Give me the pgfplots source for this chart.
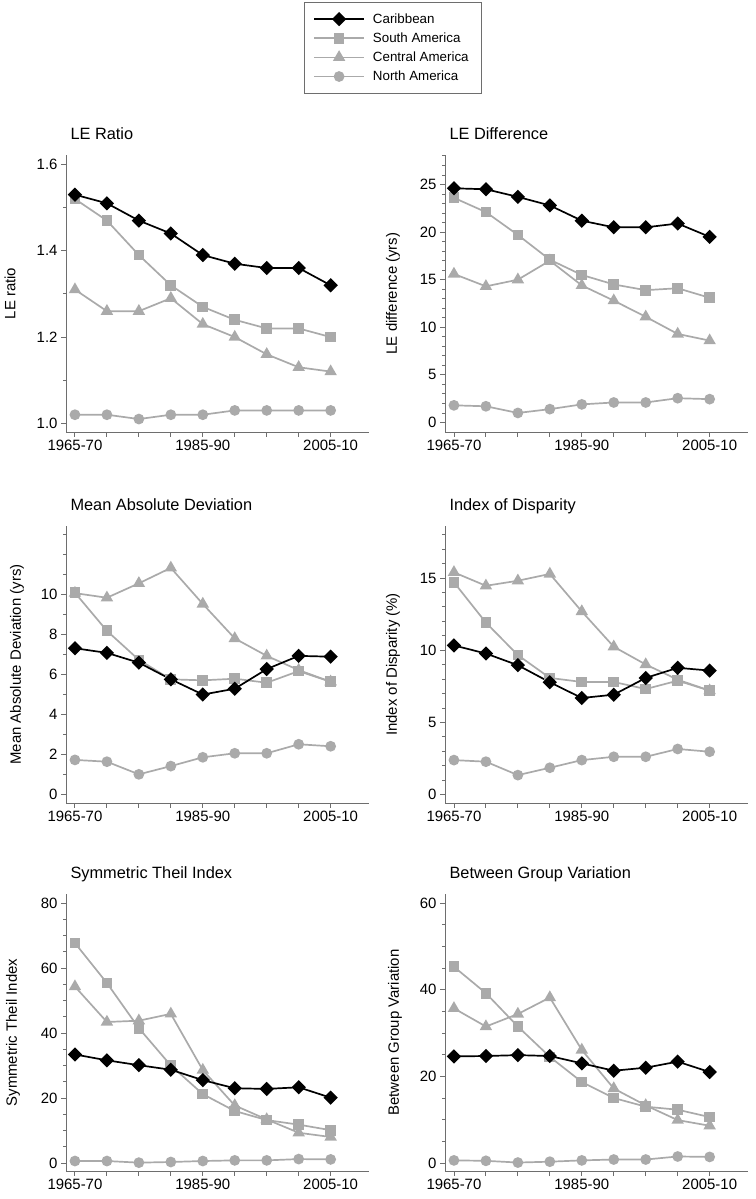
\documentclass[border=0pt]{standalone}
\usepackage{fontspec}
\setmainfont{Liberation Sans}
\usepackage{pgfplots}
\usepackage{pgfplotstable}
\pgfplotsset{compat=1.18}
\definecolor{lgray}{RGB}{170,170,170}
\definecolor{axgray}{RGB}{110,110,110}

\pgfplotstableread{
x car sam cam nam
0 1.53 1.52 1.31 1.02
1 1.51 1.47 1.26 1.02
2 1.47 1.39 1.26 1.01
3 1.44 1.32 1.29 1.02
4 1.39 1.27 1.23 1.02
5 1.37 1.24 1.20 1.03
6 1.36 1.22 1.16 1.03
7 1.36 1.22 1.13 1.03
8 1.32 1.20 1.12 1.03
}\ratio
\pgfplotstableread{
x car sam cam nam
0 24.6 23.6 15.6 1.8
1 24.5 22.1 14.3 1.7
2 23.7 19.7 15.0 1.0
3 22.8 17.1 17.0 1.4
4 21.2 15.5 14.4 1.9
5 20.5 14.5 12.8 2.1
6 20.5 13.9 11.1 2.1
7 20.9 14.1 9.3 2.55
8 19.5 13.1 8.6 2.45
}\diff
\pgfplotstableread{
x car sam cam nam
0 7.30 10.07 10.05 1.73
1 7.07 8.17 9.82 1.64
2 6.58 6.72 10.54 1.01
3 5.75 5.75 11.31 1.42
4 4.99 5.70 9.51 1.86
5 5.28 5.78 7.79 2.06
6 6.26 5.58 6.92 2.06
7 6.92 6.16 6.21 2.51
8 6.88 5.63 5.63 2.41
}\mad
\pgfplotstableread{
x car sam cam nam
0 10.33 14.70 15.39 2.39
1 9.77 11.91 14.46 2.28
2 8.96 9.66 14.81 1.35
3 7.78 8.08 15.28 1.86
4 6.69 7.80 12.68 2.39
5 6.92 7.80 10.24 2.62
6 8.08 7.31 9.01 2.62
7 8.78 7.89 7.96 3.16
8 8.59 7.20 7.20 2.97
}\idisp
\pgfplotstableread{
x car sam cam nam
0 33.4 67.7 54.3 0.6
1 31.6 55.4 43.4 0.6
2 30.1 41.5 43.8 0.1
3 28.7 30.0 45.9 0.3
4 25.5 21.2 28.6 0.6
5 23.0 16.0 17.7 0.8
6 22.8 13.2 13.4 0.8
7 23.3 11.8 9.3 1.2
8 20.1 10.1 8.0 1.1
}\theil
\pgfplotstableread{
x car sam cam nam
0 24.6 45.3 35.7 0.6
1 24.7 39.2 31.5 0.5
2 24.9 31.5 34.4 0.1
3 24.7 24.5 38.2 0.3
4 23.0 18.7 26.1 0.6
5 21.3 15.0 17.2 0.8
6 22.0 13.0 13.3 0.8
7 23.4 12.3 9.9 1.5
8 21.0 10.6 8.6 1.4
}\bgv

\pgfplotsset{
  panel/.style={
    scale only axis, width=303bp, height=277bp,
    axis lines*=left,
    axis line style={axgray, line width=0.9bp},
    every tick/.style={axgray, line width=0.9bp},
    tick align=outside,
    major tick length=5bp, minor tick length=3bp,
    xmin=-0.28, xmax=9.2,
    xtick={0,...,8}, xticklabels={1965-70,,,,1985-90,,,,2005-10},
    tick label style={font=\fontsize{15}{17}\selectfont},
    /pgf/number format/assume math mode=true,
    label style={font=\fontsize{15}{17}\selectfont},
    title style={font=\fontsize{16.4}{18}\selectfont, at={(axis description cs:0,1)}, anchor=base west, yshift=10bp, xshift=1bp},
    ylabel style={at={(axis description cs:0,0.5)}, anchor=center},
    clip=false,
  },
  car/.style={black, line width=1.7bp, mark=square*, mark size=4.2bp, mark options={rotate=45, fill=black, solid}},
  sam/.style={lgray, line width=1.7bp, mark=square*, mark size=4.5bp, mark options={fill=lgray, solid}},
  cam/.style={lgray, line width=1.7bp, mark=triangle*, mark size=5.5bp, mark options={fill=lgray, solid}},
  nam/.style={lgray, line width=1.7bp, mark=*, mark size=4.5bp, mark options={fill=lgray, solid}},
}
\newcommand{\lgt}[1]{\makebox[97bp][l]{#1}}

\begin{document}
\begin{tikzpicture}
\useasboundingbox (0bp,0bp) rectangle (756bp,1199bp);

% Panel 1
\begin{axis}[panel, at={(66bp,767bp)}, anchor=south west,
  title={LE Ratio}, ylabel={LE ratio}, ylabel style={yshift=56bp},
  ymin=0.98, ymax=1.622, ytick={1.0,1.2,1.4,1.6}, minor ytick={1.1,1.3,1.5},
  yticklabel style={/pgf/number format/.cd, fixed, fixed zerofill, precision=1},
  reverse legend,
  legend style={at={(axis description cs:0.785,1.552)}, anchor=north west, draw=axgray, line width=0.8bp,
    font=\fontsize{13.4}{15}\selectfont, inner xsep=9bp, inner ysep=9bp, row sep=4bp,
    /tikz/every odd column/.append style={column sep=6bp}},
  legend cell align=left,
  legend image code/.code={\draw[mark repeat=2,mark phase=2,#1,line width=1.7bp] plot coordinates {(0bp,0bp)(25bp,0bp)(50bp,0bp)};},
]
\addplot[nam] table[x=x,y=nam]{\ratio}; \addlegendentry{\lgt{North America}}
\addplot[cam] table[x=x,y=cam]{\ratio}; \addlegendentry{\lgt{Central America}}
\addplot[sam] table[x=x,y=sam]{\ratio}; \addlegendentry{\lgt{South America}}
\addplot[car] table[x=x,y=car]{\ratio}; \addlegendentry{\lgt{Caribbean}}
\end{axis}

% Panel 2
\begin{axis}[panel, at={(445bp,767bp)}, anchor=south west,
  title={LE Difference}, ylabel={LE difference (yrs)}, ylabel style={yshift=52bp},
  ymin=-1.0, ymax=28.1, ytick={0,5,...,25}, minor ytick={1,...,28},
]
\addplot[nam] table[x=x,y=nam]{\diff};
\addplot[cam] table[x=x,y=cam]{\diff};
\addplot[sam] table[x=x,y=sam]{\diff};
\addplot[car] table[x=x,y=car]{\diff};
\end{axis}

% Panel 3
\begin{axis}[panel, at={(66bp,396bp)}, anchor=south west,
  title={Mean Absolute Deviation}, ylabel={Mean Absolute Deviation (yrs)}, ylabel style={yshift=49bp},
  ymin=-0.42, ymax=13.4, ytick={0,2,...,10}, minor ytick={1,...,13},
]
\addplot[nam] table[x=x,y=nam]{\mad};
\addplot[cam] table[x=x,y=cam]{\mad};
\addplot[sam] table[x=x,y=sam]{\mad};
\addplot[car] table[x=x,y=car]{\mad};
\end{axis}

% Panel 4
\begin{axis}[panel, at={(445bp,396bp)}, anchor=south west,
  title={Index of Disparity}, ylabel={Index of Disparity (\%)}, ylabel style={yshift=52bp},
  ymin=-0.58, ymax=18.6, ytick={0,5,10,15}, minor ytick={1,...,18},
]
\addplot[nam] table[x=x,y=nam]{\idisp};
\addplot[cam] table[x=x,y=cam]{\idisp};
\addplot[sam] table[x=x,y=sam]{\idisp};
\addplot[car] table[x=x,y=car]{\idisp};
\end{axis}

% Panel 5
\begin{axis}[panel, at={(66bp,28bp)}, anchor=south west,
  title={Symmetric Theil Index}, ylabel={Symmetric Theil Index}, ylabel style={yshift=53bp},
  ymin=-2.47, ymax=82.8, ytick={0,20,...,80}, minor ytick={5,10,...,80},
]
\addplot[nam] table[x=x,y=nam]{\theil};
\addplot[cam] table[x=x,y=cam]{\theil};
\addplot[sam] table[x=x,y=sam]{\theil};
\addplot[car] table[x=x,y=car]{\theil};
\end{axis}

% Panel 6
\begin{axis}[panel, at={(445bp,28bp)}, anchor=south west,
  title={Between Group Variation}, ylabel={Between Group Variation}, ylabel style={yshift=50bp},
  ymin=-1.85, ymax=62.1, ytick={0,20,40,60}, minor ytick={5,10,...,60},
]
\addplot[nam] table[x=x,y=nam]{\bgv};
\addplot[cam] table[x=x,y=cam]{\bgv};
\addplot[sam] table[x=x,y=sam]{\bgv};
\addplot[car] table[x=x,y=car]{\bgv};
\end{axis}
\end{tikzpicture}
\end{document}
